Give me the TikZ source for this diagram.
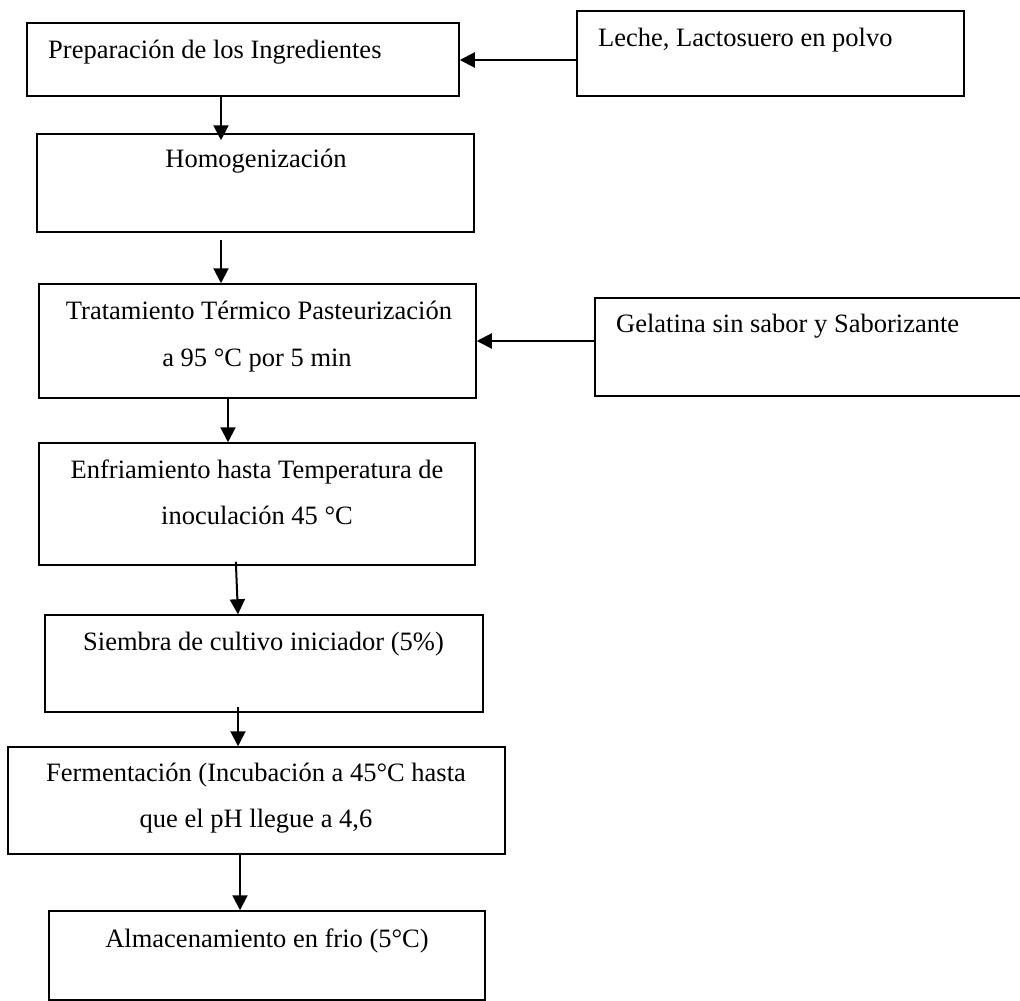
\documentclass[tikz,border=0pt]{standalone}
\usepackage{fontspec}
\setmainfont{Liberation Serif}
\usetikzlibrary{arrows.meta}
\begin{document}
\begin{tikzpicture}[x=1pt,y=-1pt,
  box/.style={draw,line width=1.5pt,inner sep=0pt},
  lbl/.style={font=\fontsize{26.5}{30}\selectfont,inner sep=0pt},
  flow/.style={line width=2pt,-{Triangle[length=15pt,width=15pt]}}]
\useasboundingbox (0,0) rectangle (1020,1001);
% boxes
\node[box,minimum width=432pt,minimum height=73pt] (prep) at (243,59.5) {};
\node[box,minimum width=387pt,minimum height=85pt] (leche) at (770.5,53.5) {};
\node[box,minimum width=437pt,minimum height=98pt] (homog) at (255.5,183) {};
\node[box,minimum width=437pt,minimum height=114pt] (trat) at (257.5,341) {};
\node[box,minimum width=430pt,minimum height=98pt] (gel) at (810,347) {};
\node[box,minimum width=436pt,minimum height=122pt] (enfr) at (257,504) {};
\node[box,minimum width=438pt,minimum height=97pt] (siem) at (264,663.5) {};
\node[box,minimum width=497pt,minimum height=107pt] (ferm) at (256.5,800.5) {};
\node[box,minimum width=436pt,minimum height=89pt] (alm) at (267,955.5) {};
% texts
\node[lbl,anchor=base west] (tprep) at (48,58) {Preparación de los Ingredientes};
\node[lbl,anchor=base west] (tleche) at (598,46) {Leche, Lactosuero en polvo};
\node[lbl,anchor=base] (thomog) at (256,167) {Homogenización};
\node[lbl,anchor=base] (ttrat1) at (259,319) {Tratamiento Térmico Pasteurización};
\node[lbl,anchor=base] (ttrat2) at (257,366) {a 95 °C por 5 min};
\node[lbl,anchor=base west] (tgel) at (616,332) {Gelatina sin sabor y Saborizante};
\node[lbl,anchor=base] (tenfr1) at (257,478) {Enfriamiento hasta Temperatura de};
\node[lbl,anchor=base] (tenfr2) at (257,524) {inoculación 45 °C};
\node[lbl,anchor=base] (tsiem) at (263.5,650) {Siembra de cultivo iniciador (5\%)};
\node[lbl,anchor=base] (tferm1) at (256,781) {Fermentación (Incubación a 45°C hasta};
\node[lbl,anchor=base] (tferm2) at (256,827) {que el pH llegue a 4,6};
\node[lbl,anchor=base] (talm) at (267,947) {Almacenamiento en frio (5°C)};
% connectors
\draw[flow] (leche.west |- 0,60) -- (prep.east |- 0,60);
\draw[flow,shorten >=-7pt] (prep.south -| 221,0) -- (homog.north -| 221,0);
\draw[flow,shorten <=7pt] (homog.south -| 221,0) -- (trat.north -| 221,0);
\draw[flow] (gel.west |- 0,341) -- (trat.east |- 0,341);
\draw[flow] (trat.south -| 228,0) -- (enfr.north -| 228,0);
\draw[flow,shorten <=-4pt] (enfr.south -| 236,0) -- (siem.north -| 238,0);
\draw[flow,shorten <=-6pt] (siem.south -| 238,0) -- (ferm.north -| 238,0);
\draw[flow] (ferm.south -| 240,0) -- (alm.north -| 240,0);
\end{tikzpicture}
\end{document}
